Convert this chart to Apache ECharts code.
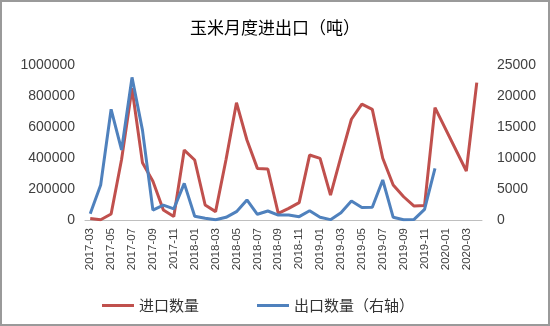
<!DOCTYPE html>
<html>
<head>
<meta charset="utf-8">
<script src="https://cdn.jsdelivr.net/npm/echarts@6/dist/echarts.min.js"></script>
<style>
  html, body { margin: 0; padding: 0; background: #fff; }
  #chart { width: 550px; height: 326px; }
</style>
</head>
<body>
<div id="chart"></div>
<script>
// months 2017-03 .. 2020-04
const months = [
  '2017-03', '2017-04', '2017-05', '2017-06', '2017-07', '2017-08', '2017-09', '2017-10',
  '2017-11', '2017-12', '2018-01', '2018-02', '2018-03', '2018-04', '2018-05', '2018-06',
  '2018-07', '2018-08', '2018-09', '2018-10', '2018-11', '2018-12', '2019-01', '2019-02',
  '2019-03', '2019-04', '2019-05', '2019-06', '2019-07', '2019-08', '2019-09', '2019-10',
  '2019-11', '2019-12', '2020-01', '2020-02', '2020-03', '2020-04'
];

// 进口数量 (left axis, tons); 2020-01/02 not reported
const importQty = [
  10000, 2000, 39000, 390000, 850000, 370000, 250000, 64000,
  22000, 451000, 387000, 97000, 54000, 390000, 757000, 516000,
  333000, 329000, 43000, 75000, 112000, 419000, 398000, 161000,
  409000, 650000, 748000, 714000, 398000, 226000, 150000, 90000,
  93000, 725000, null, null, 316000, 886000
];

// 出口数量 (right axis, tons)
const exportQty = [
  1000, 5650, 17850, 11300, 23000, 14500, 1600, 2400,
  1800, 5900, 600, 270, 50, 430, 1340, 3230,
  920, 1450, 800, 800, 540, 1500, 430, 60,
  1180, 3060, 2000, 2050, 6450, 430, 50, 100,
  1720, 8330
];

const leftTicks = { min: 0, max: 1000000, interval: 200000 };
const rightTicks = { min: 0, max: 25000, interval: 5000 };

const chart = echarts.init(document.getElementById('chart'));
const axisText = {
  color: '#404040',
  fontSize: 14,
  fontFamily: 'Liberation Sans, Arial, sans-serif',
  formatter: (v) => String(v)
};

chart.setOption({
  animation: false,
  title: {
    text: '玉米月度进出口（吨）',
    left: 'center',
    top: 14,
    textStyle: { fontSize: 17, fontWeight: 'normal', color: '#000', fontFamily: 'Noto Sans CJK SC' }
  },
  graphic: [{
    type: 'rect',
    shape: { x: 1, y: 1, width: 548, height: 324 },
    style: { fill: 'none', stroke: '#9a9a9a', lineWidth: 2 },
    silent: true
  }],
  legend: {
    left: 97,
    top: 293,
    itemWidth: 32,
    itemHeight: 3,
    itemGap: 58,
    icon: 'rect',
    textStyle: { color: '#333', fontSize: 15, fontFamily: 'Noto Sans CJK SC' },
    data: ['进口数量', '出口数量（右轴）']
  },
  grid: { left: 85, right: 68, top: 65, bottom: 106 },
  xAxis: {
    type: 'category',
    data: months,
    boundaryGap: true,
    axisLine: { lineStyle: { color: '#bfbfbf', width: 1 } },
    axisTick: { show: false },
    axisLabel: {
      interval: 1,
      rotate: 90,
      margin: 8,
      color: '#404040',
      fontSize: 11.5,
      fontFamily: 'Liberation Sans, Arial, sans-serif'
    }
  },
  yAxis: [
    {
      type: 'value',
      min: leftTicks.min, max: leftTicks.max, interval: leftTicks.interval,
      axisLine: { show: false },
      axisTick: { show: false },
      splitLine: { show: false },
      axisLabel: Object.assign({ margin: 10 }, axisText)
    },
    {
      type: 'value',
      min: rightTicks.min, max: rightTicks.max, interval: rightTicks.interval,
      axisLine: { show: false },
      axisTick: { show: false },
      splitLine: { show: false },
      axisLabel: Object.assign({ margin: 15 }, axisText)
    }
  ],
  series: [
    {
      name: '进口数量',
      type: 'line',
      yAxisIndex: 0,
      data: importQty,
      connectNulls: true,
      symbol: 'none',
      lineStyle: { color: '#C0504D', width: 3 },
      itemStyle: { color: '#C0504D' }
    },
    {
      name: '出口数量（右轴）',
      type: 'line',
      yAxisIndex: 1,
      data: exportQty,
      symbol: 'none',
      lineStyle: { color: '#4F81BD', width: 3 },
      itemStyle: { color: '#4F81BD' }
    }
  ]
});
</script>
</body>
</html>
